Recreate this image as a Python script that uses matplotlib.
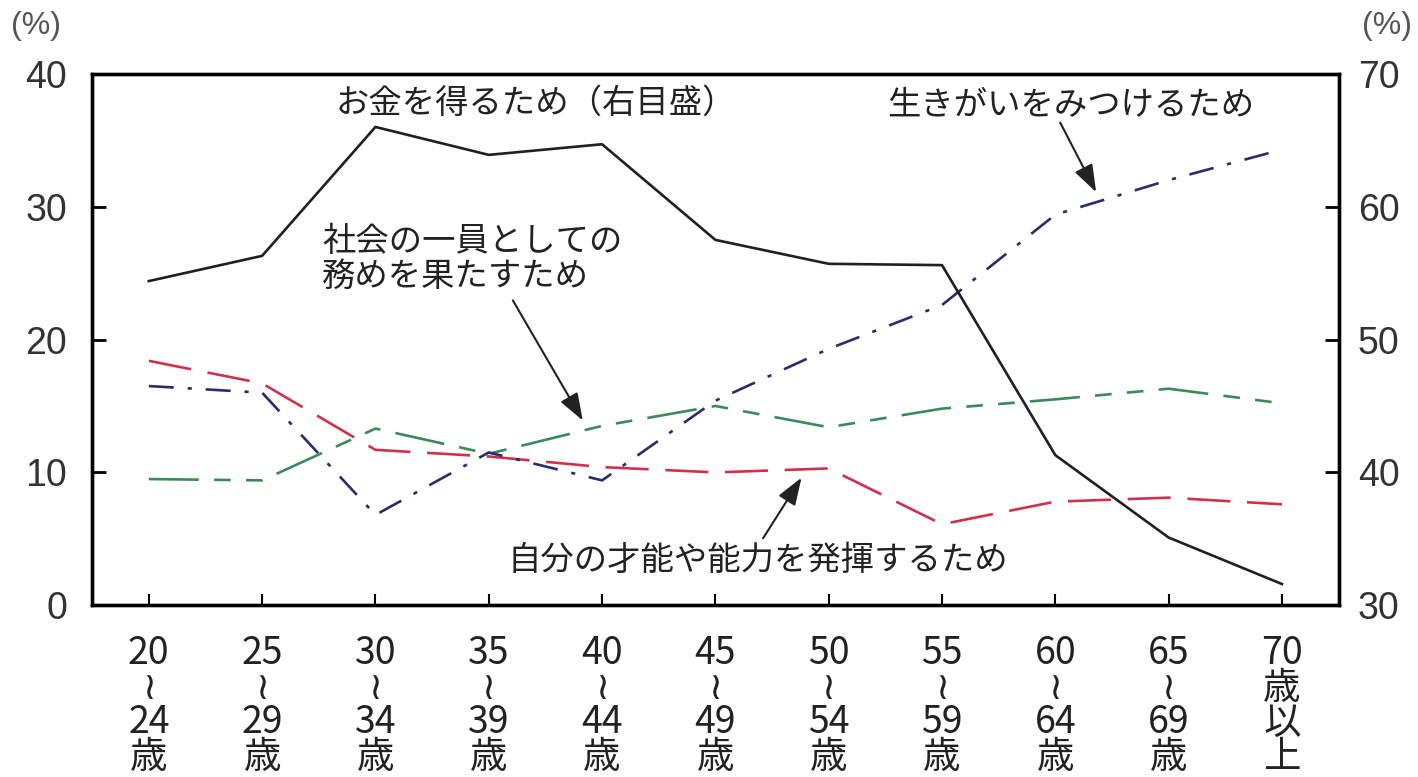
import matplotlib.pyplot as plt

plt.rcParams['font.family'] = ['Liberation Sans', 'Noto Sans CJK JP', 'DejaVu Sans']
plt.rcParams['lines.scale_dashes'] = False

ages = ["20\n≀\n24\n歳", "25\n≀\n29\n歳", "30\n≀\n34\n歳", "35\n≀\n39\n歳",
        "40\n≀\n44\n歳", "45\n≀\n49\n歳", "50\n≀\n54\n歳", "55\n≀\n59\n歳",
        "60\n≀\n64\n歳", "65\n≀\n69\n歳", "70\n歳\n以\n上"]

# right axis
money = [54.4, 56.3, 66.0, 63.9, 64.7, 57.5, 55.7, 55.6, 41.3, 35.1, 31.6]
# left axis
ikigai = [16.5, 16.0, 6.8, 11.5, 9.4, 15.4, 19.3, 22.6, 29.4, 32.0, 34.3]
shakai = [9.5, 9.4, 13.3, 11.4, 13.5, 15.0, 13.4, 14.8, 15.5, 16.3, 15.2]
jibun = [18.4, 16.7, 11.7, 11.2, 10.4, 10.0, 10.3, 6.1, 7.8, 8.1, 7.6]

x = list(range(len(ages)))

fig = plt.figure(figsize=(14.18, 7.77), dpi=100)
ax = fig.add_axes([0.065, 0.221, 0.879, 0.684])
ax2 = ax.twinx()

ax.plot(x, jibun, color='#d0304a', lw=1.9, dashes=(31, 12))
ax.plot(x, shakai, color='#3a8a5a', lw=1.9, dashes=(36, 11, 12, 11, 12, 11))
ax.plot(x, ikigai, color='#2c2c6c', lw=1.9, dashes=(18, 10, 3, 10))
ax2.plot(x, money, color='#202020', lw=1.9)

ax.set_xlim(-0.5, 10.5)
ax.set_ylim(0, 40)
ax2.set_ylim(30, 70)
ax.set_yticks([0, 10, 20, 30, 40])
ax2.set_yticks([30, 40, 50, 60, 70])
ax.set_xticks(x)
ax.set_xticklabels(ages, family=['Liberation Sans Narrow', 'Noto Sans CJK JP', 'DejaVu Sans'],
                   fontsize=27, linespacing=0.85, color='#222222')

for a in (ax, ax2):
    for s in a.spines.values():
        s.set_linewidth(2.4)
ax.tick_params(axis='y', direction='in', length=10, width=2, labelsize=27, pad=18,
               labelcolor='#333333')
ax2.tick_params(axis='y', direction='in', length=10, width=2, labelsize=27, pad=14,
                labelcolor='#333333')
ax.tick_params(axis='x', direction='in', length=8, width=1.5, pad=21)

fig.text(0.008, 0.966, '(%)', fontsize=23, color='#555555', ha='left', va='center')
fig.text(0.996, 0.966, '(%)', fontsize=23, color='#555555', ha='right', va='center')

fs = 24
ax.text(1.65, 37.7, 'お金を得るため（右目盛）', fontsize=fs, ha='left', va='center', color='#222222')
ax.annotate('生きがいをみつけるため', xy=(8.36, 31.1), xytext=(6.52, 37.5),
            fontsize=fs, ha='left', va='center', color='#222222',
            arrowprops=dict(arrowstyle='-|>,head_length=0.7,head_width=0.25', color='#222222',
                            lw=1.5, shrinkA=0, shrinkB=0,
                            patchA=None, relpos=(0.47, 0.0)))
ax.annotate('社会の一員としての\n務めを果たすため', xy=(3.83, 13.9), xytext=(1.53, 26.0),
            fontsize=fs, ha='left', va='center', color='#222222', linespacing=1.15,
            arrowprops=dict(arrowstyle='-|>,head_length=0.7,head_width=0.25', color='#222222',
                            lw=1.5, shrinkA=4, shrinkB=0, relpos=(0.62, 0.0)))
ax.annotate('自分の才能や能力を発揮するため', xy=(5.76, 9.6), xytext=(3.17, 3.3),
            fontsize=fs, ha='left', va='center', color='#222222',
            arrowprops=dict(arrowstyle='-|>,head_length=0.7,head_width=0.25', color='#222222',
                            lw=1.5, shrinkA=4, shrinkB=0, relpos=(0.5, 1.0)))

fig.savefig('out.png', dpi=100)
